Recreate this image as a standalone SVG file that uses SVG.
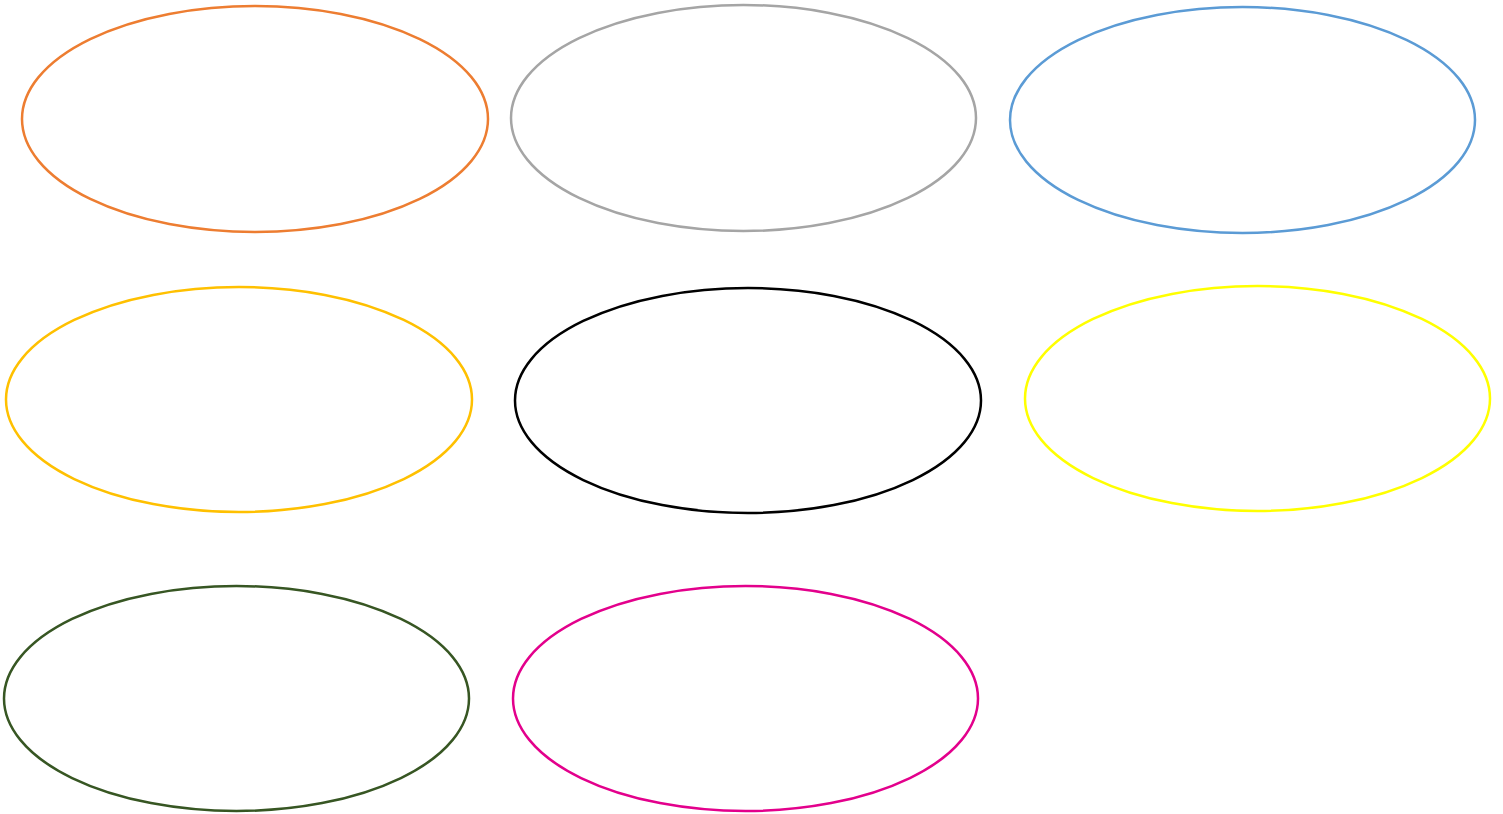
<svg xmlns="http://www.w3.org/2000/svg" width="1503" height="814" viewBox="0 0 1503 814">
<style>
ellipse { fill: #FFFFFF; stroke-width: 2.5; }
</style>
<rect width="1503" height="814" fill="#FFFFFF"/>
<g id="n1"><ellipse cx="255" cy="119" rx="233" ry="113" stroke="#ED7D31"/></g>
<g id="n2"><ellipse cx="743.5" cy="118" rx="232.5" ry="113" stroke="#A5A5A5"/></g>
<g id="n3"><ellipse cx="1242.5" cy="120" rx="232.5" ry="113" stroke="#5B9BD5"/></g>
<g id="n4"><ellipse cx="239" cy="399.5" rx="233" ry="112.5" stroke="#FFC000"/></g>
<g id="n5"><ellipse cx="748" cy="400.5" rx="233" ry="112.5" stroke="#000000"/></g>
<g id="n6"><ellipse cx="1257.5" cy="398.5" rx="232.5" ry="112.5" stroke="#FFFF00"/></g>
<g id="n7"><ellipse cx="236.5" cy="698.5" rx="232.5" ry="112.5" stroke="#375623"/></g>
<g id="n8"><ellipse cx="745.5" cy="698.5" rx="232.5" ry="112.5" stroke="#E3008C"/></g>
<g id="connectors"></g>
</svg>
